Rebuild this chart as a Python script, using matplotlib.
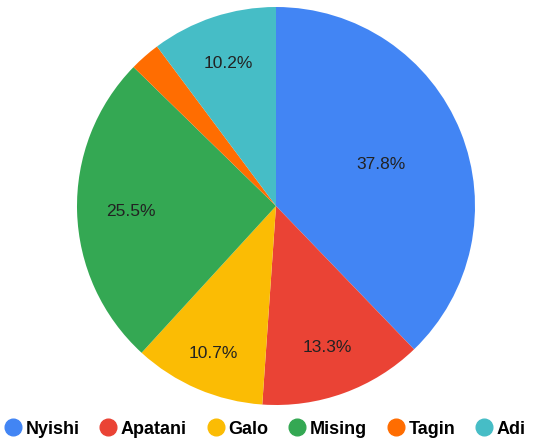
import matplotlib
matplotlib.use('Agg')
import matplotlib.pyplot as plt
from matplotlib.lines import Line2D
import numpy as np

tribes = ['Nyishi', 'Apatani', 'Galo', 'Mising', 'Tagin', 'Adi']
shares = [37.8, 13.3, 10.7, 25.5, 2.5, 10.2]
colors = ['#4285F4', '#EA4335', '#FBBC04', '#34A853', '#FF6D01', '#46BDC6']
# where each percentage label sits, as a fraction of the radius
label_dist = [0.57, 0.75, 0.80, 0.73, 0.75, 0.76]

plt.rcParams['font.family'] = ['Liberation Sans', 'DejaVu Sans']

fig = plt.figure(figsize=(5.47, 4.39), dpi=100)
ax = fig.add_axes([77/547, 33/439, 398/547, 398/439])

wedges, _ = ax.pie(shares, colors=colors, startangle=90, counterclock=False,
                   radius=1, wedgeprops=dict(linewidth=0))

# percentage labels placed along each wedge's mid angle
for w, s, d in zip(wedges, shares, label_dist):
    mid = np.deg2rad((w.theta1 + w.theta2) / 2)
    if s >= 5:
        ax.text(d*np.cos(mid), d*np.sin(mid), f'{s}%', ha='center', va='center',
                fontsize=12.5, color='#222222')

ax.set_xlim(-1, 1)
ax.set_ylim(-1, 1)
ax.set_aspect('equal')
ax.axis('off')

handles = [Line2D([], [], marker='o', linestyle='none', markersize=12,
                  markerfacecolor=c, markeredgecolor=c) for c in colors]
fig.legend(handles, tribes, loc='lower center', bbox_to_anchor=(0.485, -0.035),
           ncol=6, frameon=False, handlelength=0.9, handletextpad=0.25,
           columnspacing=1.15,
           prop=dict(family='Liberation Sans', weight='bold', size=13))

fig.savefig('out.png', dpi=100)
